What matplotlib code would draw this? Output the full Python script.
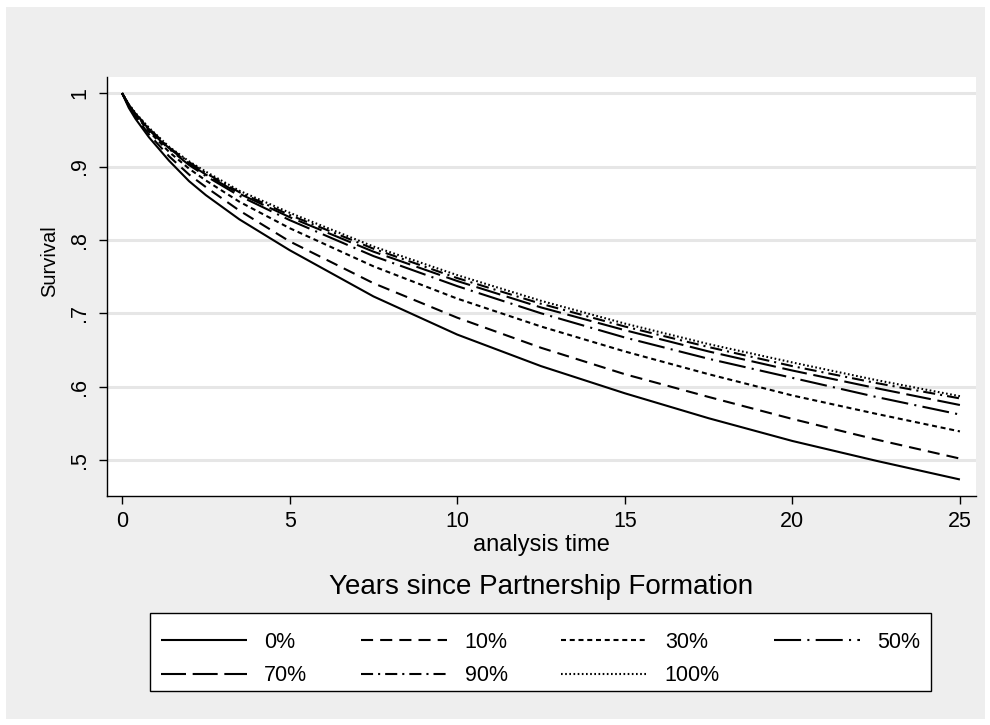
import matplotlib
matplotlib.use("Agg")
import matplotlib.pyplot as plt
from matplotlib.patches import Rectangle

plt.rcParams['font.family'] = ['Liberation Sans', 'DejaVu Sans']

# Time grid (years)
t = [0, 0.2, 0.4, 0.8, 1.4, 2, 2.5, 3.5, 5, 7.5, 10, 12.5, 15, 17.5, 20, 22.5, 25]

s0   = [1.0, 0.980, 0.965, 0.940, 0.908, 0.880, 0.861, 0.828, 0.786, 0.723, 0.671, 0.628, 0.591, 0.557, 0.526, 0.499, 0.4735]
s10  = [1.0, 0.982, 0.968, 0.944, 0.914, 0.889, 0.872, 0.840, 0.798, 0.741, 0.694, 0.653, 0.617, 0.586, 0.556, 0.528, 0.502]
s30  = [1.0, 0.983, 0.970, 0.948, 0.920, 0.897, 0.881, 0.852, 0.816, 0.764, 0.720, 0.682, 0.648, 0.617, 0.588, 0.563, 0.539]
s50  = [1.0, 0.984, 0.971, 0.950, 0.924, 0.902, 0.887, 0.860, 0.827, 0.778, 0.737, 0.700, 0.667, 0.638, 0.612, 0.586, 0.562]
s70  = [1.0, 0.984, 0.972, 0.951, 0.925, 0.904, 0.889, 0.863, 0.831, 0.784, 0.744, 0.708, 0.677, 0.648, 0.622, 0.598, 0.575]
s90  = [1.0, 0.984, 0.972, 0.952, 0.926, 0.906, 0.891, 0.865, 0.834, 0.788, 0.748, 0.713, 0.682, 0.654, 0.628, 0.605, 0.584]
s100 = [1.0, 0.985, 0.973, 0.953, 0.927, 0.907, 0.893, 0.867, 0.837, 0.791, 0.752, 0.717, 0.686, 0.658, 0.633, 0.609, 0.587]

labels = ["0%", "10%", "30%", "50%", "70%", "90%", "100%"]
series = [s0, s10, s30, s50, s70, s90, s100]

xticks = [0, 5, 10, 15, 20, 25]
yticks = [0.5, 0.6, 0.7, 0.8, 0.9, 1.0]
ytick_labels = [".5", ".6", ".7", ".8", ".9", "1"]

LW = 1.5
styles = [
    '-',
    (0, (5.8, 3.4)),
    (0, (2.4, 1.8)),
    (0, (13.0, 3.0, 1.0, 3.0)),
    (0, (12.0, 3.2)),
    (0, (5.8, 2.4, 1.0, 2.4)),
    (0, (0.8, 1.2)),
]

W, H = 990, 725
fig = plt.figure(figsize=(W / 100, H / 100), dpi=100)
fig.patch.set_facecolor('white')
fig.patches.append(Rectangle((6 / W, 1 - 719 / H), (985 - 6) / W, (719 - 7) / H,
                             transform=fig.transFigure, facecolor='#eeeeee',
                             edgecolor='none', zorder=-10))
# legend box
fig.patches.append(Rectangle((150 / W, 1 - 691 / H), (931 - 150) / W, (691 - 613) / H,
                             transform=fig.transFigure, facecolor='white',
                             edgecolor='black', linewidth=1, zorder=-5))

ax = fig.add_axes([107 / W, 1 - 496 / H, (976 - 107) / W, (496 - 77) / H])
ax.set_facecolor('white')

handles = []
for s, lab, ls in zip(series, labels, styles):
    h, = ax.plot(t, s, color='black', lw=LW, linestyle=ls, label=lab,
                 solid_capstyle='butt', dash_capstyle='butt')
    handles.append(h)

ax.set_xlim(-0.45, 25.48)
ax.set_ylim(0.451, 1.022)
ax.set_xticks(xticks)
ax.set_xticklabels([str(v) for v in xticks], fontsize=15.5)
ax.set_yticks(yticks)
ax.set_yticklabels(ytick_labels, fontsize=15.5, rotation=90, va='center')
ax.tick_params(axis='both', direction='out', length=6, width=1, colors='black')
ax.tick_params(axis='x', pad=5)
ax.tick_params(axis='y', pad=6)

ax.grid(axis='y', color='#e6e6e6', lw=2.2)
ax.set_axisbelow(True)
for side in ['top', 'right']:
    ax.spines[side].set_visible(False)
for side in ['left', 'bottom']:
    ax.spines[side].set_linewidth(1)
    ax.spines[side].set_color('black')

ax.set_xlabel("analysis time", fontsize=17, labelpad=1)
ax.set_ylabel("Survival", fontsize=14.5)
ax.yaxis.set_label_coords((59 - 107) / (976 - 107), (496 - 261) / (496 - 77))

fig.text(541.5 / W, 1 - 587 / H, "Years since Partnership Formation",
         ha='center', va='center', fontsize=20)

# matplotlib fills legend columns first; reorder so rows read 0%,10%,30%,50% / 70%,90%,100%
order = [0, 4, 1, 5, 2, 6, 3]
leg = fig.legend([handles[i] for i in order], [labels[i] for i in order],
                 loc='center left',
                 bbox_to_anchor=(150 / W, 1 - 659 / H, (931 - 150) / W, 0),
                 mode='expand', ncol=4, fontsize=15.5, frameon=False,
                 handlelength=4.0, handletextpad=0.8, borderaxespad=0,
                 columnspacing=1.2, labelspacing=0.59, borderpad=0.5)

fig.savefig("out.png", dpi=100, facecolor=fig.get_facecolor())
